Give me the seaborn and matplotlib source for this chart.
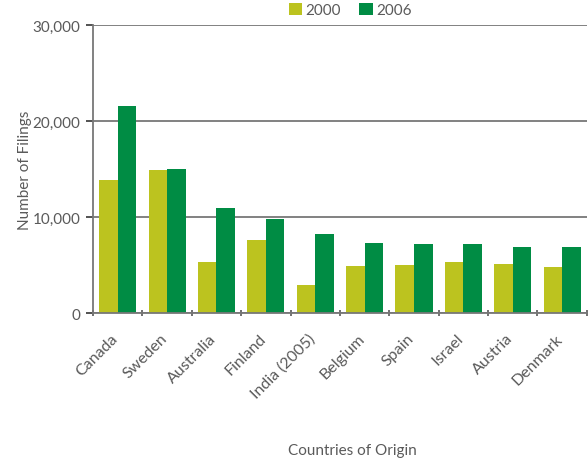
import matplotlib
matplotlib.use("Agg")
import matplotlib.pyplot as plt
import matplotlib.transforms as mtransforms
from matplotlib.ticker import FuncFormatter, FixedLocator
import pandas as pd
import seaborn as sns

# 数据
countries = ["Canada", "Sweden", "Australia", "Finland", "India (2005)",
             "Belgium", "Spain", "Israel", "Austria", "Denmark"]
filings_2000 = [13900, 14850, 5350, 7650, 2950, 4850, 4950, 5350, 5150, 4750]
filings_2006 = [21600, 14950, 10900, 9750, 8200, 7250, 7150, 7150, 6850, 6850]
years = ["2000", "2006"]
colors = ["#bcc31f", "#008c44"]

df = pd.DataFrame({
    "country": countries * 2,
    "year": [years[0]] * len(countries) + [years[1]] * len(countries),
    "filings": filings_2000 + filings_2006,
})

sns.set_style("white")
plt.rcParams["font.family"] = ["Lato", "DejaVu Sans"]
text_color = "#5a5a5a"
line_color = "#777777"

fig = plt.figure(figsize=(5.88, 4.64), dpi=100)
ax = fig.add_axes([93 / 588, 1 - 314 / 464, 1 - 93 / 588 - 0.002, (314 - 26) / 464])

sns.barplot(data=df, x="country", y="filings", hue="year", order=countries,
            hue_order=years, palette=colors, width=0.75, gap=0,
            saturation=1, linewidth=0, ax=ax, legend=True)

ax.set_xlim(-0.5, len(countries) - 0.5)
ax.set_ylim(0, 30000)
ax.set_yticks([0, 10000, 20000, 30000])
ax.yaxis.set_major_formatter(FuncFormatter(lambda v, p: f"{int(v):,}"))
ax.grid(axis="y", color=line_color, linewidth=1.3)
ax.set_axisbelow(True)

for side in ["top", "right"]:
    ax.spines[side].set_visible(False)
for side in ["left", "bottom"]:
    ax.spines[side].set_color(line_color)
    ax.spines[side].set_linewidth(1.3)

ax.tick_params(axis="y", left=True, length=5, width=1.3, color="#444444",
               labelsize=11, labelcolor=text_color, pad=4)
ax.tick_params(axis="x", which="major", length=0, labelsize=11.5,
               labelcolor=text_color, pad=13)
# 类别之间的刻度线
ax.xaxis.set_minor_locator(FixedLocator([i - 0.5 for i in range(len(countries) + 1)]))
ax.tick_params(axis="x", which="minor", bottom=True, length=5, width=1.3,
               color="#666666", direction="inout")
shift = mtransforms.ScaledTranslation(-7 / 100, 0, fig.dpi_scale_trans)
for lab in ax.get_xticklabels():
    lab.set_rotation(45)
    lab.set_ha("right")
    lab.set_rotation_mode("anchor")
    lab.set_transform(lab.get_transform() + shift)

ax.set_xlabel("")
ax.set_ylabel("Number of Filings", fontsize=11, color=text_color)
ax.yaxis.set_label_coords(-0.123, 0.5)
fig.text(352 / 588, 1 - 451 / 464, "Countries of Origin", fontsize=11,
         color=text_color, ha="center", va="center")

handles, labels = ax.get_legend_handles_labels()
ax.get_legend().remove()
fig.legend(handles, labels, loc="center", bbox_to_anchor=(350 / 588, 1 - 11 / 464),
           ncol=2, frameon=False, fontsize=11, handlelength=0.9, handleheight=0.9,
           handletextpad=0.2, columnspacing=1.2, labelcolor=text_color)

fig.savefig("out.png", dpi=100)
